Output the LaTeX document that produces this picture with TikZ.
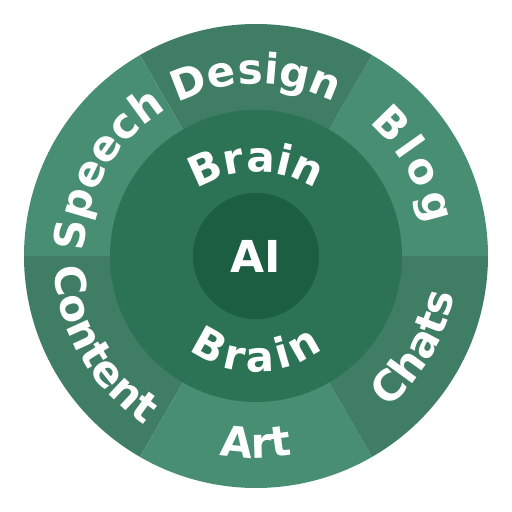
\documentclass[tikz,border=0pt]{standalone}
\usepackage{fontspec}
\setmainfont{DejaVu Sans Bold}
\usetikzlibrary{decorations.text}
\definecolor{lightseg}{RGB}{72,142,114}
\definecolor{darkseg}{RGB}{63,125,100}
\definecolor{midring}{RGB}{44,115,85}
\definecolor{corefill}{RGB}{28,94,65}
\tikzset{
  seglabel/.style={decorate, decoration={text along path, text={#1}, text align=center, text color=white}},
  seglabelraised/.style 2 args={decorate, decoration={text along path, text={#1}, text align=center, text color=white, raise=#2}},
}
\begin{document}
\begin{tikzpicture}[x=1pt,y=1pt]
\fontsize{42}{50}\selectfont
\useasboundingbox (-256,-256) rectangle (256,256);
% outer segments
\fill[lightseg] (0,0) -- (0:232) arc[start angle=0,end angle=60,radius=232] -- cycle;
\fill[darkseg] (0,0) -- (60:232) arc[start angle=60,end angle=120,radius=232] -- cycle;
\fill[lightseg] (0,0) -- (120:232) arc[start angle=120,end angle=180,radius=232] -- cycle;
\fill[darkseg] (0,0) -- (180:232) arc[start angle=180,end angle=240,radius=232] -- cycle;
\fill[lightseg] (0,0) -- (240:232) arc[start angle=240,end angle=300,radius=232] -- cycle;
\fill[darkseg] (0,0) -- (300:232) arc[start angle=300,end angle=360,radius=232] -- cycle;
% middle ring and core
\fill[midring] (0,0) circle[radius=146];
\fill[corefill] (0,0) circle[radius=63];
% outer labels (top half, clockwise)
\path[seglabel={Design}] (150:172) arc[start angle=150,end angle=30,radius=172];
\path[seglabel={Speech}] (210:172) arc[start angle=210,end angle=90,radius=172];
\path[seglabelraised={Blog}{28pt}] (90:146) arc[start angle=90,end angle=-30,radius=146];
% outer labels (bottom half, counterclockwise)
\path[seglabel={Art}] (210:202) arc[start angle=210,end angle=330,radius=202];
\path[seglabel={Content}] (150:202) arc[start angle=150,end angle=270,radius=202];
\path[seglabel={Chats}] (270:202) arc[start angle=270,end angle=390,radius=202];
% inner labels
\path[seglabel={Brain}] (-110,-26) arc[start angle=180,end angle=0,radius=110];
\path[seglabelraised={Brain}{-18pt}] (-92,-6) arc[start angle=180,end angle=360,radius=92];
% centre
\node[text=white, font=\fontsize{44}{50}\selectfont, inner sep=0pt] (ai) at (0,0) {AI};
\end{tikzpicture}
\end{document}
